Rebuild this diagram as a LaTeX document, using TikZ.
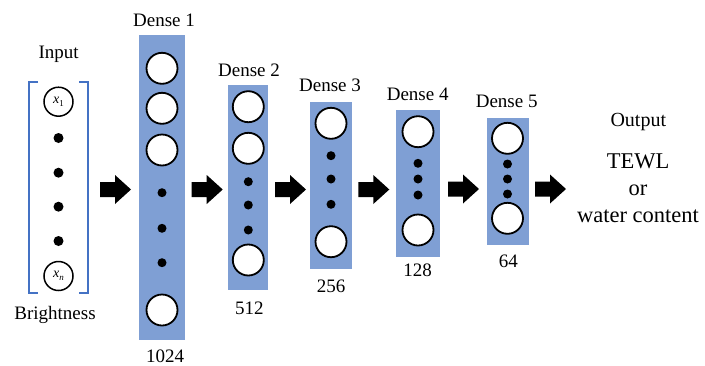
\documentclass[tikz,border=0pt]{standalone}
\usepackage{fontspec}
\setmainfont{Liberation Serif}
\newcommand{\invar}[2]{{\itshape #1}\raisebox{-2.5pt}{\fontsize{9}{9}\selectfont\itshape #2}}
\begin{document}
\begin{tikzpicture}[x=1pt,y=-1pt,
  layer/.style={fill=layerblue, draw=none, inner sep=0},
  neuron/.style={circle, draw=black, fill=white, line width=1.8pt, minimum size=31pt, inner sep=0},
  inneuron/.style={circle, draw=black, fill=white, line width=1.5pt, minimum size=29pt, inner sep=0, font=\fontsize{14}{16}\selectfont},
  dot/.style={circle, fill=black, minimum size=9pt, inner sep=0},
  indot/.style={circle, fill=black, minimum size=10pt, inner sep=0},
  lbl/.style={inner sep=0, font=\fontsize{19}{22}\selectfont},
  outlbl/.style={inner sep=0, font=\fontsize{22.5}{26}\selectfont},
  bracket/.style={draw=bracketblue, line width=2pt},
  blockarrow/.pic={\fill[black] (0,-7.5) -- (15,-7.5) -- (15,-14.5) -- (31,0) -- (15,14.5) -- (15,7.5) -- (0,7.5) -- cycle;}
]
\definecolor{layerblue}{RGB}{127,159,212}
\definecolor{bracketblue}{RGB}{68,114,196}
\useasboundingbox (0,0) rectangle (705,365);

% input vector
\node[lbl] (inlabel) at (58.7,54) {Input};
\draw[bracket] (38,82) -- (29,82) -- (29,293) -- (38,293);
\draw[bracket] (79.3,82) -- (88.3,82) -- (88.3,293) -- (79.3,293);
\node[inneuron] (x1) at (58.5,101.7) {\invar{x}{\upshape 1}};
\node[indot] (id1) at (58.5,138) {};
\node[indot] (id2) at (58.5,172.7) {};
\node[indot] (id3) at (58.5,206.7) {};
\node[indot] (id4) at (58.5,241) {};
\node[inneuron] (xn) at (58.5,276) {\invar{x}{n}};
\node[lbl] (brightness) at (55,315) {Brightness};

% Dense 1
\node[layer, minimum width=46pt, minimum height=305pt] (L1) at (162,187.5) {};
\node[lbl] at (164,20.7) {Dense 1};
\node[neuron] (n11) at (162,68.3) {};
\node[neuron] (n12) at (162,108.3) {};
\node[neuron] (n13) at (162,150) {};
\node[dot] (d11) at (162,192.7) {};
\node[dot] (d12) at (162,228.3) {};
\node[dot] (d13) at (162,262.7) {};
\node[neuron] (n14) at (162,310) {};
\node[lbl] (c1) at (165,356) {1024};

% Dense 2
\node[layer, minimum width=40pt, minimum height=205pt] (L2) at (248.3,187.5) {};
\node[lbl] at (249,70) {Dense 2};
\node[neuron] (n21) at (248.3,106.7) {};
\node[neuron] (n22) at (248.3,148.3) {};
\node[dot] (d21) at (248.3,181.7) {};
\node[dot] (d22) at (248.3,205) {};
\node[dot] (d23) at (248.3,230) {};
\node[neuron] (n23) at (248.3,260) {};
\node[lbl] (c2) at (249.3,308) {512};

% Dense 3
\node[layer, minimum width=42pt, minimum height=167pt] (L3) at (331,185) {};
\node[lbl] at (330,85) {Dense 3};
\node[neuron] (n31) at (331,123.3) {};
\node[dot] (d31) at (331,155.7) {};
\node[dot] (d32) at (331,179) {};
\node[dot] (d33) at (331,204.3) {};
\node[neuron] (n32) at (331,241.7) {};
\node[lbl] (c3) at (331,286) {256};

% Dense 4
\node[layer, minimum width=44pt, minimum height=147pt] (L4) at (418,183) {};
\node[lbl] at (417.7,94.3) {Dense 4};
\node[neuron] (n41) at (418,131.7) {};
\node[dot] (d41) at (418,163.3) {};
\node[dot] (d42) at (418,179) {};
\node[dot] (d43) at (418,195) {};
\node[neuron] (n42) at (418,230) {};
\node[lbl] (c4) at (417.7,270.7) {128};

% Dense 5
\node[layer, minimum width=42pt, minimum height=127pt] (L5) at (507.5,181.7) {};
\node[lbl] at (506.7,101.7) {Dense 5};
\node[neuron] (n51) at (507.5,138.3) {};
\node[dot] (d51) at (507.5,164) {};
\node[dot] (d52) at (507.5,179) {};
\node[dot] (d53) at (507.5,194) {};
\node[neuron] (n52) at (507.5,218.3) {};
\node[lbl] (c5) at (508.3,261.7) {64};

% block arrows between stages
\pic at (100,189.5) {blockarrow};
\pic at (191.7,189.5) {blockarrow};
\pic at (275,189.5) {blockarrow};
\pic at (358.3,189.5) {blockarrow};
\pic at (448,189) {blockarrow};
\pic at (535,189) {blockarrow};

% output
\node[inner sep=0, font=\fontsize{20}{24}\selectfont] (outlabel) at (638.3,121.7) {Output};
\node[outlbl] (tewl) at (638,161.7) {TEWL};
\node[outlbl] (or) at (638,190) {or};
\node[outlbl] (wc) at (638,216.7) {water content};
\end{tikzpicture}
\end{document}
